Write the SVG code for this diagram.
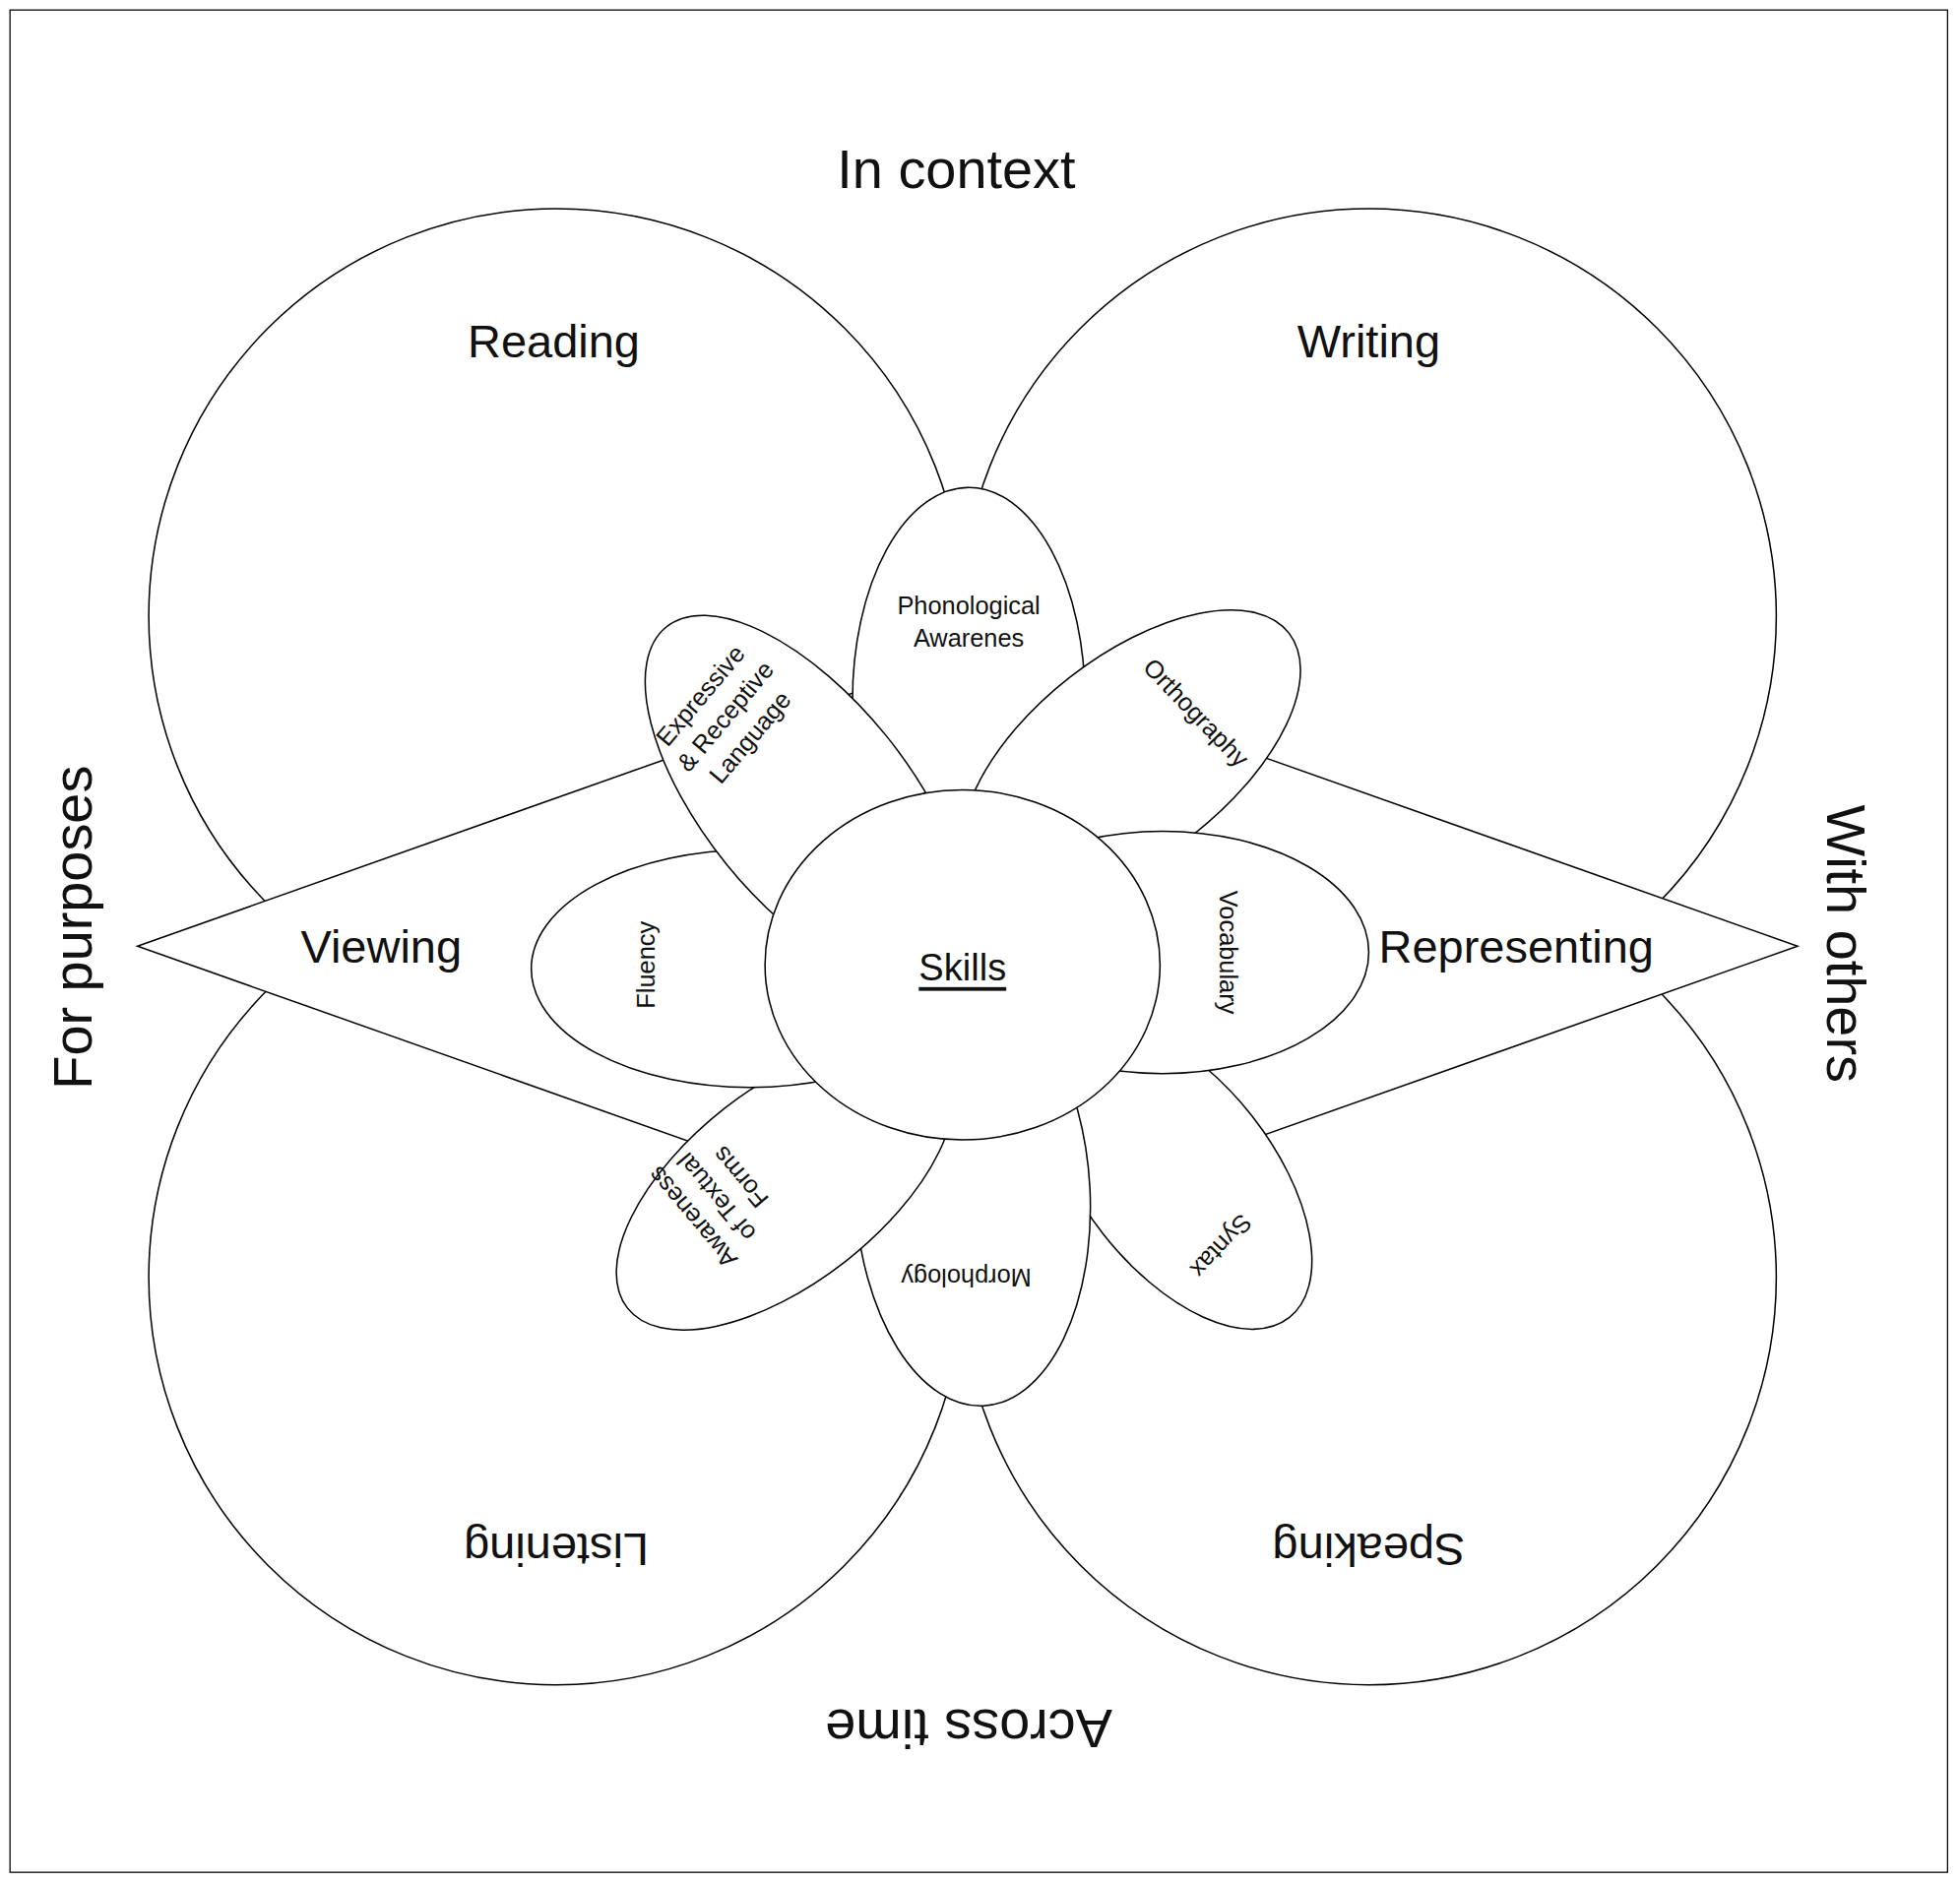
<svg xmlns="http://www.w3.org/2000/svg" width="1991" height="1912" viewBox="0 0 1991 1912">
<style>
.s{fill:#fff;stroke:#000;stroke-width:1.2}
.t{font-family:"Liberation Sans",Arial,sans-serif;fill:#111;text-anchor:middle;dominant-baseline:central}
.big{font-size:44px}.mid{font-size:37px}.sm{font-size:20px}
</style>
<rect width="1991" height="1912" fill="#fff"/>
<g transform="scale(1.2698)">
<rect x="8" y="8" width="1550" height="1490" fill="none" stroke="#000" stroke-width="1"/>
<text class="t big" x="765" y="135">In context</text>
<text class="t big" transform="translate(775,1383) rotate(180)">Across time</text>
<text class="t big" transform="translate(58,742) rotate(-90)">For purposes</text>
<text class="t big" transform="translate(1477,755) rotate(90)">With others</text>
<g id="reading"><circle class="s" cx="445" cy="493" r="326"/><text class="t mid" x="443" y="273">Reading</text></g>
<g id="writing"><circle class="s" cx="1095" cy="493" r="326"/><text class="t mid" x="1095" y="273">Writing</text></g>
<g id="listening"><circle class="s" cx="445" cy="1022" r="326"/><text class="t mid" transform="translate(445,1240) rotate(180)">Listening</text></g>
<g id="speaking"><circle class="s" cx="1095" cy="1022" r="326"/><text class="t mid" transform="translate(1095,1240) rotate(180)">Speaking</text></g>
<g id="diamond"><polygon class="s" points="110,757 774,522 1438,757 774,992"/>
<text class="t mid" x="305" y="757">Viewing</text><text class="t mid" x="1213" y="757">Representing</text></g>
<g id="phonological"><ellipse class="s" cx="775" cy="560" rx="93" ry="170"/><text class="t sm" x="775" y="484">Phonological</text><text class="t sm" x="775" y="510">Awarenes</text></g>
<g id="syntax"><ellipse class="s" cx="942" cy="940" rx="145" ry="76" transform="rotate(52 942 940)"/><text class="t sm" transform="translate(977,997) rotate(133)">Syntax</text></g>
<g id="morphology"><ellipse class="s" cx="778" cy="955" rx="94" ry="170" transform="rotate(-3 778 955)"/><text class="t sm" transform="translate(773,1022) rotate(180)">Morphology</text></g>
<g id="awareness"><ellipse class="s" cx="628" cy="948" rx="160" ry="78" transform="rotate(-38 628 948)"/>
<g transform="translate(573,958) rotate(-130)"><text class="t sm" y="-25">Awareness</text><text class="t sm" y="0">of Textual</text><text class="t sm" y="25">Forms</text></g></g>
<g id="fluency"><ellipse class="s" cx="600" cy="775" rx="175" ry="95"/><text class="t sm" transform="translate(517,772) rotate(-90)">Fluency</text></g>
<g id="expressive"><ellipse class="s" cx="645" cy="640" rx="178" ry="82" transform="rotate(51 645 640)"/>
<g transform="translate(580,573) rotate(-50)"><text class="t sm" y="-26">Expressive</text><text class="t sm" y="0">&amp; Receptive</text><text class="t sm" y="26">Language</text></g></g>
<g id="orthography"><ellipse class="s" cx="905" cy="605" rx="160" ry="80" transform="rotate(-38 905 605)"/><text class="t sm" transform="translate(957,570) rotate(46)">Orthography</text></g>
<g id="vocabulary"><ellipse class="s" cx="930" cy="762" rx="165" ry="97"/><text class="t sm" transform="translate(983,762) rotate(90)">Vocabulary</text></g>
<g id="skills"><ellipse class="s" cx="770" cy="772" rx="158" ry="140"/><text class="t" style="font-size:30px;text-decoration:underline" x="770" y="774">Skills</text></g>
</g>
</svg>
